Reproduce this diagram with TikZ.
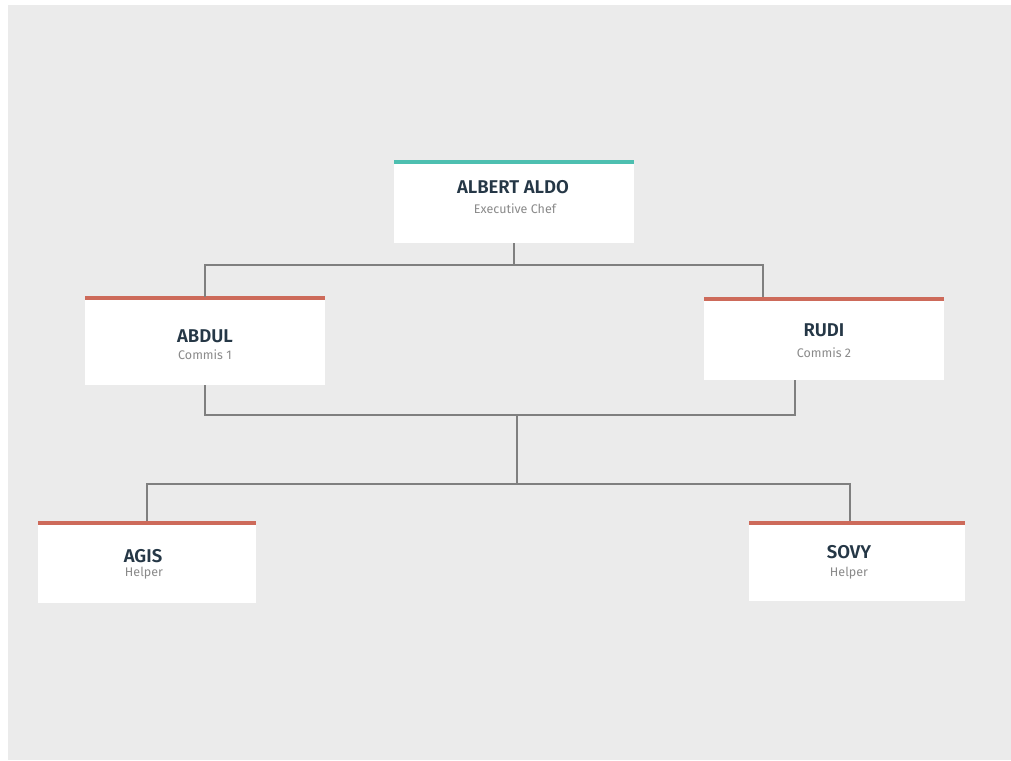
\documentclass[tikz,border=0pt]{standalone}
\usepackage{fontspec}
\setmainfont{Fira Sans}[BoldFont={Fira Sans SemiBold}]
\definecolor{bg}{HTML}{EBEBEB}
\definecolor{teal}{HTML}{4DBFB0}
\definecolor{redbar}{HTML}{CD6A5A}
\definecolor{titlec}{HTML}{253746}
\definecolor{subc}{HTML}{8A8A8A}
\definecolor{linec}{HTML}{7F7F7F}
\tikzset{
  card/.style={fill=white, draw=none, inner sep=0pt, anchor=north west},
  ttl/.style={font=\fontsize{18.5}{22}\selectfont\bfseries, text=titlec, inner sep=0pt},
  sub/.style={font=\fontsize{12.5}{15}\selectfont, text=subc, inner sep=0pt},
  conn/.style={draw=linec, line width=1.3pt},
}
\begin{document}
\begin{tikzpicture}[x=1pt,y=-1pt]
\useasboundingbox (0,0) rectangle (1011,760);
\fill[white] (0,0) rectangle (1011,760);
\fill[bg] (8,5) rectangle (1011,760);
% cards: name, left, top, width, height (incl bar), bar colour
\newcommand{\card}[6]{%
  \node[card, minimum width=#4pt, minimum height=#5pt] (#1) at (#2,#3) {};
  \fill[#6] (#2,#3) rectangle ++(#4,4);
}
\card{chef}{394}{160}{240}{83}{teal}
\card{abdul}{85}{296}{240}{89}{redbar}
\card{rudi}{704}{297}{240}{83}{redbar}
\card{agis}{38}{521}{218}{82}{redbar}
\card{sovy}{749}{521}{216}{80}{redbar}
% texts
\node[ttl] (t1) at (513,187) {ALBERT ALDO};
\node[sub] (s1) at (515,209) {Executive Chef};
\node[ttl] (t2) at (205,336) {ABDUL};
\node[sub] (s2) at (205,355) {Commis 1};
\node[ttl] (t3) at (824,330) {RUDI};
\node[sub] (s3) at (824,353) {Commis 2};
\node[ttl] (t4) at (143,556) {AGIS};
\node[sub] (s4) at (144,573) {Helper};
\node[ttl] (t5) at (849,552) {SOVY};
\node[sub] (s5) at (849,573) {Helper};
% connectors
\coordinate (j1) at (514,265);
\coordinate (j2) at (517,415);
\coordinate (j3) at (517,484);
\draw[conn] (chef.south -| j1) -- (j1);
\draw[conn] (205,297) |- (j1) -| (763,297);
\draw[conn] (abdul.south -| 205,0) |- (j2) -| (795,380);
\draw[conn] (j2) -- (j3);
\draw[conn] (147,521) |- (j3) -| (850,521);
\end{tikzpicture}
\end{document}
